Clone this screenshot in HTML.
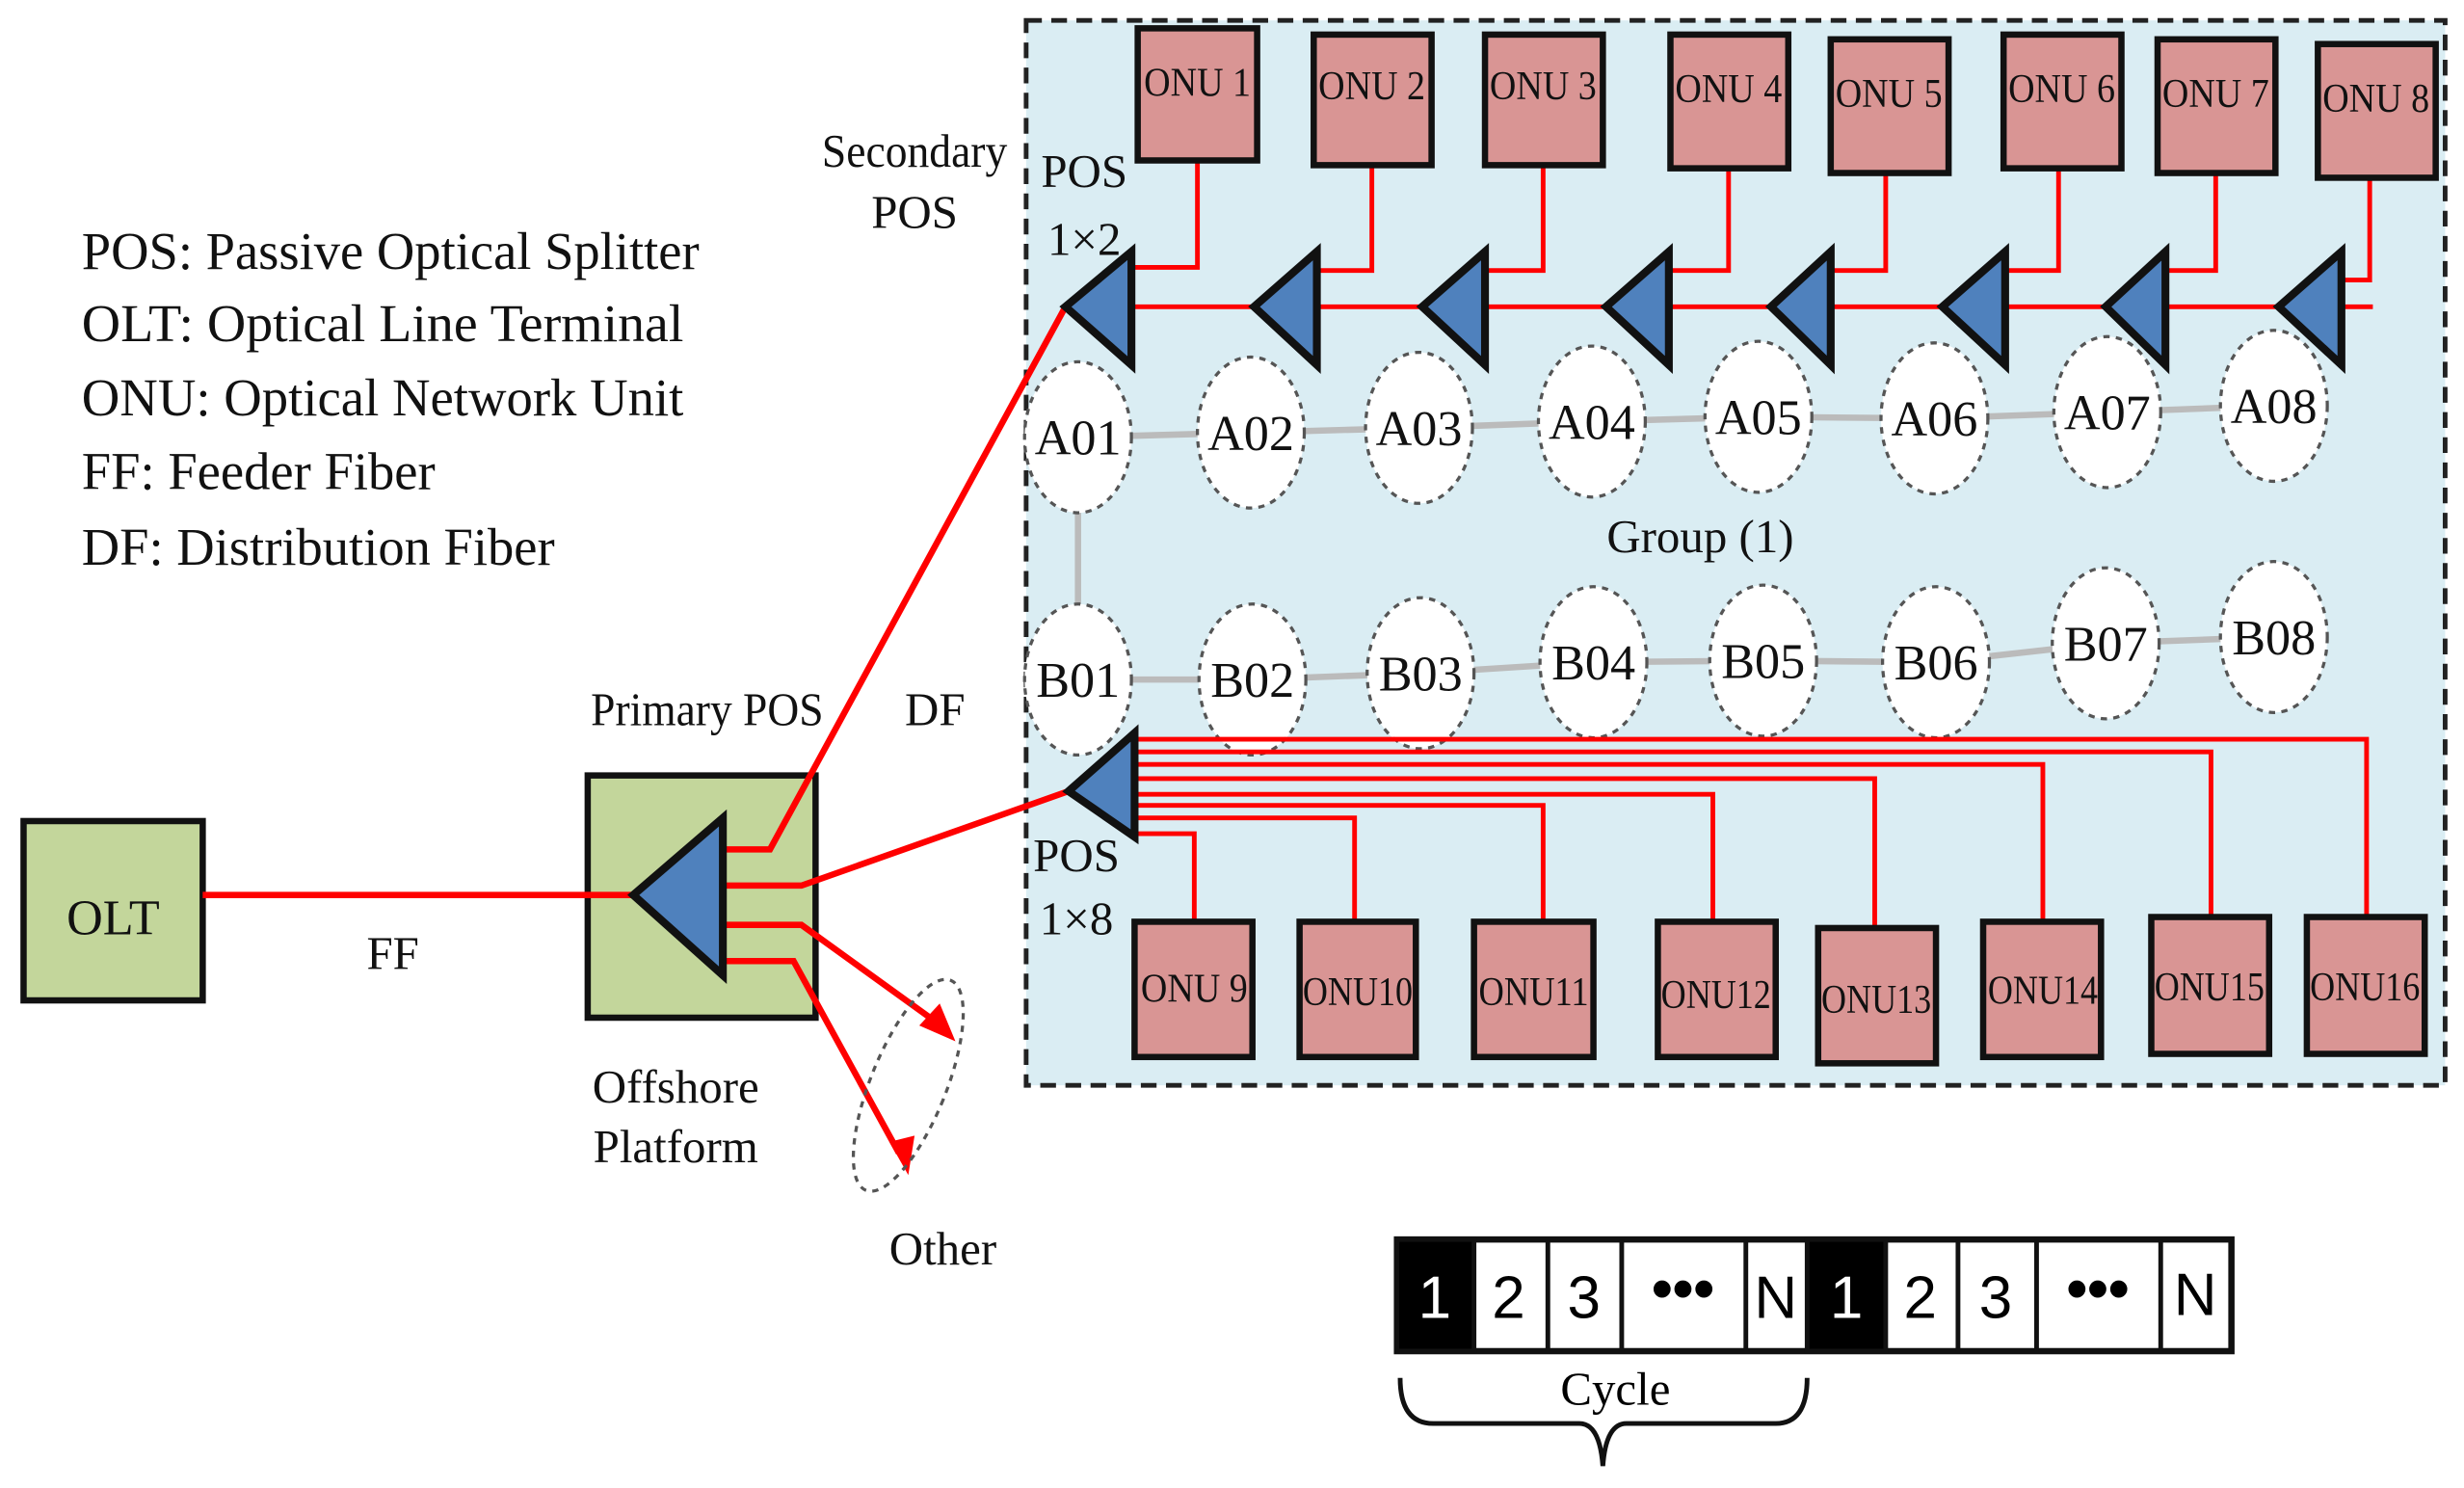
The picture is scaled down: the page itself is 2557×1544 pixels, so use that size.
<!DOCTYPE html>
<html><head><meta charset="utf-8"><style>html,body{margin:0;padding:0;background:#fff}svg{display:block}</style></head>
<body>
<svg width="2557" height="1544" viewBox="0 0 1568 946" preserveAspectRatio="none" xmlns="http://www.w3.org/2000/svg" font-family="Liberation Serif, serif">
<rect x="0" y="0" width="1568" height="946" fill="#fff"/>
<rect x="653" y="13" width="903" height="677" fill="#daedf3" stroke="#222" stroke-width="3" stroke-dasharray="10,6"/>
<g font-size="34" fill="#111" lengthAdjust="spacingAndGlyphs">
<text x="52" y="171" textLength="393" lengthAdjust="spacingAndGlyphs">POS: Passive Optical Splitter</text>
<text x="52" y="217" textLength="383" lengthAdjust="spacingAndGlyphs">OLT: Optical Line Terminal</text>
<text x="52" y="264" textLength="383" lengthAdjust="spacingAndGlyphs">ONU: Optical Network Unit</text>
<text x="52" y="311" textLength="225" lengthAdjust="spacingAndGlyphs">FF: Feeder Fiber</text>
<text x="52" y="359" textLength="301" lengthAdjust="spacingAndGlyphs">DF: Distribution Fiber</text>
</g>
<g font-size="30" fill="#111" text-anchor="middle">
<text x="582" y="106" textLength="118" lengthAdjust="spacingAndGlyphs">Secondary</text><text x="582" y="145">POS</text>
<text x="690" y="119">POS</text><text x="690" y="162">1×2</text>
<text x="685" y="554">POS</text><text x="685" y="594">1×8</text>
<text x="450" y="461" textLength="148" lengthAdjust="spacingAndGlyphs">Primary POS</text>
<text x="595" y="461">DF</text>
<text x="250" y="616">FF</text>
<text x="430" y="701">Offshore</text><text x="430" y="739">Platform</text>
<text x="600" y="804">Other</text>
<text x="1082" y="351">Group (1)</text>
</g>
<g stroke="#bbb" stroke-width="4">
<polyline points="686,278 796,275 903,272 1013,268 1119,265 1231,266 1341,262 1447,258" fill="none"/>
<polyline points="686,432 797,432 904,428 1014,421 1122,420 1232,421 1340,409 1447,405" fill="none"/>
<line x1="686" y1="278" x2="686" y2="432"/>
</g>
<g fill="#fff" stroke="#555" stroke-width="2" stroke-dasharray="4,4">
<ellipse cx="686" cy="278" rx="34" ry="48"/><ellipse cx="796" cy="275" rx="34" ry="48"/><ellipse cx="903" cy="272" rx="34" ry="48"/><ellipse cx="1013" cy="268" rx="34" ry="48"/><ellipse cx="1119" cy="265" rx="34" ry="48"/><ellipse cx="1231" cy="266" rx="34" ry="48"/><ellipse cx="1341" cy="262" rx="34" ry="48"/><ellipse cx="1447" cy="258" rx="34" ry="48"/>
<ellipse cx="686" cy="432" rx="34" ry="48"/><ellipse cx="797" cy="432" rx="34" ry="48"/><ellipse cx="904" cy="428" rx="34" ry="48"/><ellipse cx="1014" cy="421" rx="34" ry="48"/><ellipse cx="1122" cy="420" rx="34" ry="48"/><ellipse cx="1232" cy="421" rx="34" ry="48"/><ellipse cx="1340" cy="409" rx="34" ry="48"/><ellipse cx="1447" cy="405" rx="34" ry="48"/>
</g>
<g font-size="32" fill="#111" text-anchor="middle">
<text x="686" y="289">A01</text><text x="796" y="286">A02</text><text x="903" y="283">A03</text><text x="1013" y="279">A04</text><text x="1119" y="276">A05</text><text x="1231" y="277">A06</text><text x="1341" y="273">A07</text><text x="1447" y="269">A08</text>
<text x="686" y="443">B01</text><text x="797" y="443">B02</text><text x="904" y="439">B03</text><text x="1014" y="432">B04</text><text x="1122" y="431">B05</text><text x="1232" y="432">B06</text><text x="1340" y="420">B07</text><text x="1447" y="416">B08</text>
</g>
<g stroke="#f00" stroke-width="3" fill="none">
<line x1="720" y1="195" x2="1510" y2="195"/>
<polyline points="762,102 762,170 720,170"/>
<polyline points="873,105 873,172 838,172"/>
<polyline points="982,105 982,172 945,172"/>
<polyline points="1100,107 1100,172 1062,172"/>
<polyline points="1200,110 1200,172 1165,172"/>
<polyline points="1310,107 1310,172 1276,172"/>
<polyline points="1410,110 1410,172 1378,172"/>
<polyline points="1508,113 1508,178 1490,178"/>
</g>
<g stroke="#f00" stroke-width="3" fill="none">
<polyline points="722,470 1506,470 1506,586"/>
<polyline points="722,478 1407,478 1407,583"/>
<polyline points="722,486 1300,486 1300,586"/>
<polyline points="722,495 1193,495 1193,590"/>
<polyline points="722,505 1090,505 1090,586"/>
<polyline points="722,512 982,512 982,586"/>
<polyline points="722,520 862,520 862,586"/>
<polyline points="722,530 760,530 760,586"/>
</g>
<g fill="#d99594" stroke="#111" stroke-width="4">
<rect x="724" y="18" width="76" height="84"/><rect x="836" y="22" width="75" height="83"/><rect x="945" y="22" width="75" height="83"/><rect x="1063" y="22" width="75" height="85"/><rect x="1165" y="25" width="75" height="85"/><rect x="1275" y="22" width="75" height="85"/><rect x="1373" y="25" width="75" height="85"/><rect x="1475" y="28" width="75" height="85"/>
<rect x="722" y="586" width="75" height="86"/><rect x="827" y="586" width="74" height="86"/><rect x="938" y="586" width="76" height="86"/><rect x="1055" y="586" width="75" height="86"/><rect x="1157" y="590" width="75" height="86"/><rect x="1262" y="586" width="75" height="86"/><rect x="1369" y="583" width="75" height="87"/><rect x="1468" y="583" width="75" height="87"/>
</g>
<g font-size="26" fill="#111" text-anchor="middle">
<text x="762" y="61" textLength="68" lengthAdjust="spacingAndGlyphs">ONU 1</text><text x="873" y="63" textLength="68" lengthAdjust="spacingAndGlyphs">ONU 2</text><text x="982" y="63" textLength="68" lengthAdjust="spacingAndGlyphs">ONU 3</text><text x="1100" y="65" textLength="68" lengthAdjust="spacingAndGlyphs">ONU 4</text><text x="1202" y="68" textLength="68" lengthAdjust="spacingAndGlyphs">ONU 5</text><text x="1312" y="65" textLength="68" lengthAdjust="spacingAndGlyphs">ONU 6</text><text x="1410" y="68" textLength="68" lengthAdjust="spacingAndGlyphs">ONU 7</text><text x="1512" y="71" textLength="68" lengthAdjust="spacingAndGlyphs">ONU 8</text>
<text x="760" y="637" textLength="68" lengthAdjust="spacingAndGlyphs">ONU 9</text><text x="864" y="639" textLength="70" lengthAdjust="spacingAndGlyphs">ONU10</text><text x="976" y="639" textLength="70" lengthAdjust="spacingAndGlyphs">ONU11</text><text x="1092" y="641" textLength="70" lengthAdjust="spacingAndGlyphs">ONU12</text><text x="1194" y="644" textLength="70" lengthAdjust="spacingAndGlyphs">ONU13</text><text x="1300" y="638" textLength="70" lengthAdjust="spacingAndGlyphs">ONU14</text><text x="1406" y="636" textLength="70" lengthAdjust="spacingAndGlyphs">ONU15</text><text x="1505" y="636" textLength="70" lengthAdjust="spacingAndGlyphs">ONU16</text>
</g>
<rect x="15" y="522" width="114" height="114" fill="#c3d69b" stroke="#111" stroke-width="4"/>
<text x="72" y="594" font-size="32" text-anchor="middle" fill="#111">OLT</text>
<rect x="374" y="493" width="145" height="154" fill="#c3d69b" stroke="#111" stroke-width="4"/>
<g stroke="#f00" stroke-width="4" fill="none">
<line x1="129" y1="569" x2="405" y2="569"/>
<polyline points="460,540 490,540 678,195"/>
<polyline points="460,563 510,563 680,503"/>
<polyline points="460,588 510,588 596,650"/>
<polyline points="460,611 505,611 572,733"/>
</g>
<polygon points="608,662 585,652 598,638" fill="#f00"/>
<polygon points="578,747 566,726 582,722" fill="#f00"/>
<ellipse cx="578" cy="690" rx="24" ry="72" transform="rotate(22 578 690)" fill="none" stroke="#555" stroke-width="2" stroke-dasharray="4,4"/>
<g fill="#4f81bd" stroke="#111" stroke-width="5" stroke-linejoin="miter">
<polygon points="403,569 460,520 460,620"/>
<polygon points="680,503 722,466 722,532"/>
<polygon points="678,195 720,160 720,232"/>
<polygon points="798,195 838,160 838,232"/>
<polygon points="905,195 945,160 945,232"/>
<polygon points="1022,195 1062,160 1062,232"/>
<polygon points="1127,195 1165,160 1165,232"/>
<polygon points="1236,195 1276,160 1276,232"/>
<polygon points="1340,195 1378,160 1378,232"/>
<polygon points="1450,195 1490,160 1490,232"/>
</g>
<g stroke="#111" stroke-width="3">
<rect x="889" y="788" width="531" height="71" fill="#fff" stroke-width="4"/>
<rect x="889" y="788" width="49" height="71" fill="#000"/>
<rect x="1150" y="788" width="50" height="71" fill="#000"/>
<line x1="985" y1="788" x2="985" y2="859"/><line x1="1032" y1="788" x2="1032" y2="859"/><line x1="1111" y1="788" x2="1111" y2="859"/>
<line x1="1246" y1="788" x2="1246" y2="859"/><line x1="1296" y1="788" x2="1296" y2="859"/><line x1="1375" y1="788" x2="1375" y2="859"/>
</g>
<g font-family="Liberation Sans, sans-serif" font-size="38" text-anchor="middle">
<text x="913" y="838" fill="#fff">1</text><text x="960" y="838">2</text><text x="1008" y="838">3</text><text x="1071" y="832" font-weight="bold">•••</text><text x="1130" y="838">N</text>
<text x="1175" y="838" fill="#fff">1</text><text x="1222" y="838">2</text><text x="1270" y="838">3</text><text x="1335" y="832" font-weight="bold">•••</text><text x="1397" y="836">N</text>
</g>
<path d="M891,876 Q891,905 912,905 L1005,905 Q1018,905 1020,932 Q1022,905 1035,905 L1130,905 Q1150,905 1150,876" fill="none" stroke="#111" stroke-width="3"/>
<text x="1028" y="893" font-size="30" text-anchor="middle">Cycle</text>
</svg>
</body></html>
